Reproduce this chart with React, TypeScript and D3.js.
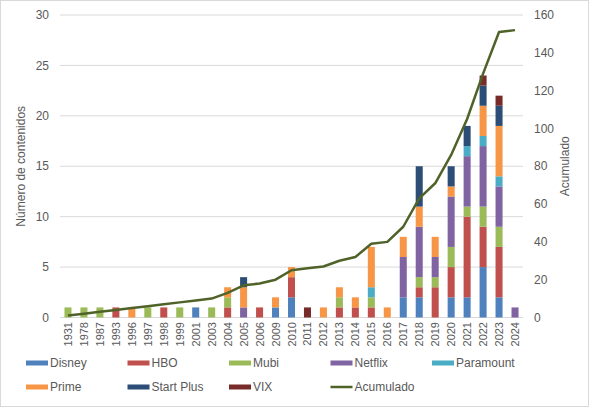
import React from "react";
import * as d3 from "d3";

const years = ["1931", "1978", "1987", "1993", "1996", "1997", "1998", "1999", "2001", "2003", "2004", "2005", "2006", "2009", "2010", "2011", "2012", "2013", "2014", "2015", "2016", "2017", "2018", "2019", "2020", "2021", "2022", "2023", "2024"];

const disney    = [0, 0, 0, 0, 0, 0, 0, 0, 1, 0, 0, 0, 0, 1, 2, 0, 0, 0, 0, 0, 0, 2, 2, 0, 2, 2, 5, 2, 0];
const hbo       = [0, 0, 0, 1, 0, 0, 1, 0, 0, 0, 1, 0, 1, 0, 2, 0, 0, 1, 1, 1, 0, 0, 1, 3, 3, 8, 4, 5, 0];
const mubi      = [1, 1, 1, 0, 0, 1, 0, 1, 0, 1, 1, 0, 0, 0, 0, 0, 0, 1, 0, 1, 0, 0, 1, 1, 2, 1, 2, 2, 0];
const netflix   = [0, 0, 0, 0, 0, 0, 0, 0, 0, 0, 0, 1, 0, 0, 0, 0, 0, 0, 0, 0, 0, 4, 5, 2, 5, 5, 6, 4, 1];
const paramount = [0, 0, 0, 0, 0, 0, 0, 0, 0, 0, 0, 0, 0, 0, 0, 0, 0, 0, 0, 1, 0, 0, 0, 0, 0, 1, 1, 1, 0];
const prime     = [0, 0, 0, 0, 1, 0, 0, 0, 0, 0, 1, 2, 0, 1, 1, 0, 1, 1, 1, 4, 1, 2, 2, 2, 1, 0, 3, 5, 0];
const startPlus = [0, 0, 0, 0, 0, 0, 0, 0, 0, 0, 0, 1, 0, 0, 0, 0, 0, 0, 0, 0, 0, 0, 4, 0, 2, 2, 2, 2, 0];
const vix       = [0, 0, 0, 0, 0, 0, 0, 0, 0, 0, 0, 0, 0, 0, 0, 1, 0, 0, 0, 0, 0, 0, 0, 0, 0, 0, 1, 1, 0];
const acumulado = [1, 2, 3, 4, 5, 6, 7, 8, 9, 10, 13, 17, 18, 20, 25, 26, 27, 30, 32, 39, 40, 48, 63, 71, 86, 105, 129, 151, 152];

const series = [
  { name: "Disney", values: disney, color: "#4F81BD" },
  { name: "HBO", values: hbo, color: "#C0504D" },
  { name: "Mubi", values: mubi, color: "#9BBB59" },
  { name: "Netflix", values: netflix, color: "#8064A2" },
  { name: "Paramount", values: paramount, color: "#4BACC6" },
  { name: "Prime", values: prime, color: "#F79646" },
  { name: "Start Plus", values: startPlus, color: "#2C4D75" },
  { name: "VIX", values: vix, color: "#772C2A" },
];

const leftTicks = [0, 5, 10, 15, 20, 25, 30];
const rightTicks = [0, 20, 40, 60, 80, 100, 120, 140, 160];

const W = 590;
const H = 409;
const margin = { top: 15, right: 67, bottom: 91, left: 60 };
const textColor = "#595959";
const font = "'Liberation Sans', Arial, sans-serif";
const lineColor = "#4F6228";

export default function App() {
  const x = d3
    .scaleBand()
    .domain(years)
    .range([margin.left, W - margin.right])
    .paddingInner(0.56)
    .paddingOuter(0.28);
  const y = d3.scaleLinear().domain([0, 30]).range([H - margin.bottom - 0.5, margin.top]);
  const y2 = d3.scaleLinear().domain([0, 160]).range([H - margin.bottom - 0.5, margin.top]);

  const rows = years.map((yr, i) => {
    const r: any = { year: yr };
    series.forEach(s => (r[s.name] = s.values[i]));
    return r;
  });
  const stacked = d3.stack().keys(series.map(s => s.name))(rows);

  const line = d3
    .line<number>()
    .x((_, i) => (x(years[i]) as number) + x.bandwidth() / 2)
    .y(d => y2(d));

  const legendItems = [...series.map(s => ({ name: s.name, color: s.color, line: false })), { name: "Acumulado", color: lineColor, line: true }];

  return (
    <svg width={W} height={H} style={{ position: "fixed", left: 0, top: 0, background: "#fff" }} fontFamily={font}>
      <rect x={0.5} y={0.5} width={W - 2} height={406} fill="#fff" stroke="#d9d9d9" />
      {leftTicks.map(t => (
        <g key={t}>
          {t > 0 && <line x1={margin.left} x2={W - margin.right} y1={y(t)} y2={y(t)} stroke="#d9d9d9" strokeWidth={1} />}
          <text x={49} y={y(t)} dy="0.35em" textAnchor="end" fontSize={12} fill={textColor}>{t}</text>
        </g>
      ))}
      <line x1={margin.left} x2={W - margin.right} y1={y(0)} y2={y(0)} stroke="#d9d9d9" />
      {rightTicks.map(t => (
        <text key={t} x={534} y={y2(t)} dy="0.35em" fontSize={12} fill={textColor}>{t}</text>
      ))}
      {stacked.map((layer, li) => (
        <g key={layer.key} fill={series[li].color}>
          {layer.map((d, i) =>
            d[1] - d[0] > 0 ? (
              <rect key={i} x={x(years[i])} y={y(d[1])} width={x.bandwidth()} height={y(d[0]) - y(d[1])} />
            ) : null
          )}
        </g>
      ))}
      <path d={line(acumulado) || ""} fill="none" stroke={lineColor} strokeWidth={2.5} strokeLinejoin="round" />
      {years.map(yr => {
        const cx = (x(yr) as number) + x.bandwidth() / 2;
        return (
          <text key={yr} transform={`translate(${cx + 4},322) rotate(-90)`} textAnchor="end" fontSize={11} fill={textColor}>{yr}</text>
        );
      })}
      <text transform={`translate(25,${(y(0) + y(30)) / 2}) rotate(-90)`} textAnchor="middle" fontSize={12} fill={textColor}>Número de contenidos</text>
      <text transform={`translate(569,${(y(0) + y(30)) / 2}) rotate(-90)`} textAnchor="middle" fontSize={12} fill={textColor}>Acumulado</text>
      {legendItems.map((it, i) => {
        const col = i % 5;
        const row = Math.floor(i / 5);
        const lx = 26 + col * 101.5;
        const ly = 363 + row * 24;
        return (
          <g key={it.name}>
            {it.line ? (
              <line x1={lx} x2={lx + 22} y1={ly} y2={ly} stroke={it.color} strokeWidth={2.5} />
            ) : (
              <rect x={lx} y={ly - 2.5} width={22} height={5} fill={it.color} />
            )}
            <text x={lx + 24} y={ly} dy="0.35em" fontSize={12} fill={textColor}>{it.name}</text>
          </g>
        );
      })}
    </svg>
  );
}
